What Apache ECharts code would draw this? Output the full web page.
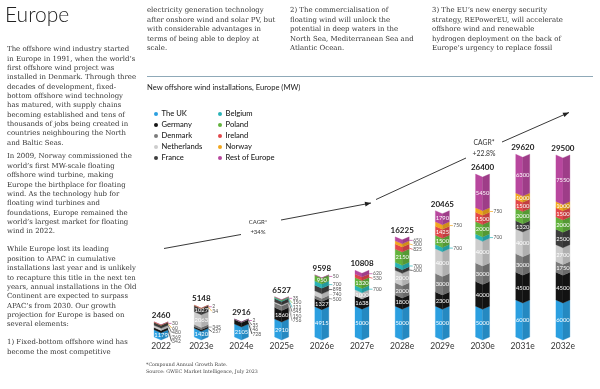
<!DOCTYPE html>
<html><head><meta charset="utf-8">
<script src="https://cdn.jsdelivr.net/npm/echarts@6/dist/echarts.min.js"></script>
<style>html,body{margin:0;padding:0;background:#fff}#c{width:600px;height:389px}</style>
</head><body><div id="c"></div>
<script>
// ---- data ----
const years = ['2022','2023e','2024e','2025e','2026e','2027e','2028e','2029e','2030e','2031e','2032e'];
const totals = [2460,5148,2916,6527,9598,10808,16225,20465,26400,29620,29500];
const theUK = [1179,1420,2105,2910,4915,5000,5000,5000,5000,6000,6000];
const germany = [342,257,728,1860,1327,1638,1800,2300,4000,4500,4500];
const denmark = [0,345,0,756,500,0,2000,3000,3000,3000,1750];
const netherlands = [369,2063,46,150,740,1000,2000,4000,4000,4000,2700];
const france = [480,1027,35,545,898,0,600,0,0,1320,2500];
const belgium = [0,0,0,121,700,700,700,700,700,0,0];
const poland = [0,0,0,150,950,1320,2150,1500,2000,2000,2000];
const ireland = [0,0,0,0,0,530,825,1425,1500,1500,1500];
const norway = [60,34,0,0,0,0,500,750,750,1000,1000];
const restOfEurope = [30,2,2,35,50,620,650,1790,5450,6300,7550];
const countryNames = ['The UK','Germany','Denmark','Netherlands','France','Belgium','Poland','Ireland','Norway','Rest of Europe'];
const countryValues = [theUK,germany,denmark,netherlands,france,belgium,poland,ireland,norway,restOfEurope];
const cagrLabels = ['CAGR*\n+34%','CAGR*\n+22.8%'];

// ---- styles ----
const colors = ['#2b9fe0','#151515','#7b7b7b','#cdcdcd','#3e3e3e','#2ab3b8','#62b23c','#e2474a','#f2a61c','#b8479e'];
const SANS = 'Lato, "Noto Sans", sans-serif';
const SERIF = '"DejaVu Serif", serif';

function shade(hex, f){
  const n = parseInt(hex.slice(1),16);
  let r=(n>>16)&255,g=(n>>8)&255,b=n&255;
  r=Math.round(r*f);g=Math.round(g*f);b=Math.round(b*f);
  return 'rgb('+r+','+g+','+b+')';
}

function renderItem(params, api){
  const i = api.value(0);
  const base = api.coord([i,0]);
  const xC = base[0], bw = 14, d = 3;
  const xL = xC-bw/2, xR = xC+bw/2;
  const children = [];
  const outs = [];
  let cum = 0, topY = base[1];
  countryValues.forEach((arr,c)=>{
    const v = arr[i];
    if(!v) return;
    const yB = api.coord([i,cum])[1];
    const yT = api.coord([i,cum+v])[1];
    cum += v; topY = yT;
    const col = colors[c];
    children.push({type:'polygon',shape:{points:[[xL,yT],[xC,yT+d],[xC,yB+d],[xL,yB]]},style:{fill:col,stroke:col,lineWidth:0.3}});
    const col2 = shade(col,0.86);
    children.push({type:'polygon',shape:{points:[[xC,yT+d],[xR,yT],[xR,yB],[xC,yB+d]]},style:{fill:col2,stroke:col2,lineWidth:0.3}});
    if(v>=900){
      children.push({type:'text',style:{text:String(v),x:xC,y:(yT+yB)/2+d*0.6,align:'center',verticalAlign:'middle',fill:'#fff',font:'5.8px '+SANS}});
    } else {
      outs.push({y:(yT+yB)/2+d*0.5,v:v,color:col});
    }
  });
  outs.sort((a,b)=>a.y-b.y);
  let prev=-1e9;
  outs.forEach(o=>{o.py=Math.max(o.y,prev+4.5);prev=o.py;});
  outs.forEach(o=>{
    children.push({type:'line',shape:{x1:xR,y1:o.y,x2:xR+3.5,y2:o.py},style:{stroke:o.color,lineWidth:0.7}});
    children.push({type:'text',style:{text:String(o.v),x:xR+4,y:o.py,align:'left',verticalAlign:'middle',fill:'#555',font:'5px '+SANS}});
  });
  children.push({type:'text',style:{text:String(totals[i]),x:xC,y:topY-6.5,align:'center',verticalAlign:'middle',fill:'#222',font:'bold 8px '+SANS}});
  return {type:'group',children:children};
}

// ---- annotations ----
const graphics = [];
function txt(text,x,y,font,fill,lh,extra){
  graphics.push({type:'text',x:x,y:y,style:Object.assign({text:text,font:font,fill:fill,lineHeight:lh||undefined,verticalAlign:'top',align:'left'},extra||{}),silent:true});
}
txt('Europe',5,5,'300 21px '+SANS,'#222');
const LH = 9.35;
const bodyFont = '6.95px '+SERIF, bodyCol='#333';
txt('The offshore wind industry started\nin Europe in 1991, when the world\u2019s\nfirst offshore wind project was\ninstalled in Denmark. Through three\ndecades of development, fixed-\nbottom offshore wind technology\nhas matured, with supply chains\nbecoming established and tens of\nthousands of jobs being created in\ncountries neighbouring the North\nand Baltic Seas.',7,44.7,bodyFont,bodyCol,LH);
txt('In 2009, Norway commissioned the\nworld\u2019s first MW-scale floating\noffshore wind turbine, making\nEurope the birthplace for floating\nwind. As the technology hub for\nfloating wind turbines and\nfoundations, Europe remained the\nworld\u2019s largest market for floating\nwind in 2022.',7,152,bodyFont,bodyCol,LH);
txt('While Europe lost its leading\nposition to APAC in cumulative\ninstallations last year and is unlikely\nto recapture this title in the next ten\nyears, annual installations in the Old\nContinent are expected to surpass\nAPAC\u2019s from 2030. Our growth\nprojection for Europe is based on\nseveral elements:',7,245,bodyFont,bodyCol,LH);
txt('1) Fixed-bottom offshore wind has\nbecome the most competitive',7,338,bodyFont,bodyCol,LH);
txt('electricity generation technology\nafter onshore wind and solar PV, but\nwith considerable advantages in\nterms of being able to deploy at\nscale.',147,6,bodyFont,bodyCol,LH);
txt('2) The commercialisation of\nfloating wind will unlock the\npotential in deep waters in the\nNorth Sea, Mediterranean Sea and\nAtlantic Ocean.',290,6,bodyFont,bodyCol,LH);
txt('3) The EU\u2019s new energy security\nstrategy, REPowerEU, will accelerate\noffshore wind and renewable\nhydrogen deployment on the back of\nEurope\u2019s urgency to replace fossil',432,6,bodyFont,bodyCol,LH);
graphics.push({type:'line',shape:{x1:147,y1:76.5,x2:593,y2:76.5},style:{stroke:'#8fa9b8',lineWidth:1},silent:true});
txt('New offshore wind installations, Europe (MW)',147,83.5,'7.6px '+SANS,'#222');
countryNames.forEach((n,k)=>{
  const col = k<5?0:1, row = k%5;
  const x = col===0?156:220, y = 114+row*11;
  graphics.push({type:'circle',shape:{cx:x,cy:y,r:2},style:{fill:colors[k]},silent:true});
  txt(n,x+5.5,y,'500 7.6px '+SANS,'#222',null,{verticalAlign:'middle'});
});
function arrowSeg(x1,y1,x2,y2,head){
  graphics.push({type:'line',shape:{x1:x1,y1:y1,x2:x2,y2:y2},style:{stroke:'#222',lineWidth:0.9},silent:true});
  if(head){
    const a=Math.atan2(y2-y1,x2-x1),L=6,W=2.4;
    const bx=x2-L*Math.cos(a),by=y2-L*Math.sin(a);
    graphics.push({type:'polygon',shape:{points:[[x2,y2],[bx+W*Math.sin(a),by-W*Math.cos(a)],[bx-W*Math.sin(a),by+W*Math.cos(a)]]},style:{fill:'#222'},silent:true});
  }
}
arrowSeg(164,248.5,241,234.5,false);
arrowSeg(281,220,371,203,true);
txt(cagrLabels[0],258,217,'6px '+SANS,'#333',10,{align:'center'});
arrowSeg(376,199.5,466,158,false);
arrowSeg(502,142,569,112.5,true);
txt(cagrLabels[1],484,138,'6.8px '+SANS,'#333',10.5,{align:'center'});
txt('*Compound Annual Growth Rate.\nSource: GWEC Market Intelligence, July 2023',146,362,'4.8px '+SERIF,'#444',6.5);

const chart = echarts.init(document.getElementById('c'));
chart.setOption({
  animation:false,
  grid:{left:141,right:17,top:139.5,bottom:52},
  xAxis:{type:'category',data:years,axisLine:{show:false},axisTick:{show:false},
    axisLabel:{margin:5,fontSize:8.5,color:'#333',fontFamily:SANS}},
  yAxis:{type:'value',min:0,max:32000,show:false},
  series:[{type:'custom',renderItem:renderItem,data:years.map((y,i)=>[i,totals[i]]),encode:{x:0,y:1},clip:false}],
  graphic:graphics
});
</script></body></html>
